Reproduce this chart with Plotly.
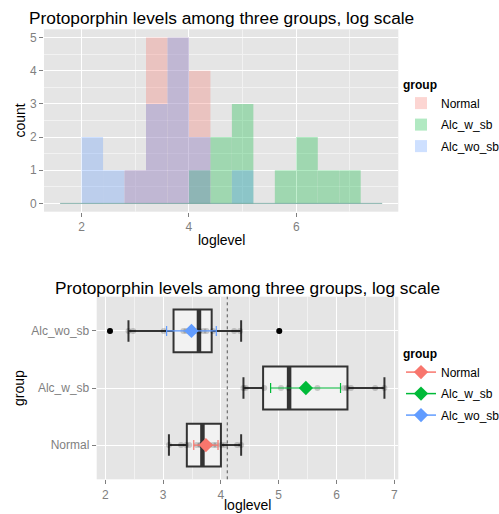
import plotly.graph_objects as go

# ---------------- data ----------------
groups = ["Normal", "Alc_w_sb", "Alc_wo_sb"]
colors = {"Normal": "#F8766D", "Alc_w_sb": "#00BA38", "Alc_wo_sb": "#619CFF"}

# histogram (bin width 0.4)
bin_centers = [1.8, 2.2, 2.6, 3.0, 3.4, 3.8, 4.2, 4.6, 5.0, 5.4, 5.8, 6.2, 6.6, 7.0, 7.4]
bin_width = 0.4
count_normal = [0, 0, 0, 1, 5, 5, 4, 0, 0, 0, 0, 0, 0, 0, 0]
count_alc_w_sb = [0, 0, 0, 0, 0, 0, 1, 2, 3, 0, 1, 2, 1, 1, 0]
count_alc_wo_sb = [0, 2, 1, 1, 3, 5, 2, 0, 1, 0, 0, 0, 0, 0, 0]
hist_counts = {"Normal": count_normal, "Alc_w_sb": count_alc_w_sb, "Alc_wo_sb": count_alc_wo_sb}

# boxplot statistics
box_q1 = [3.41, 4.73, 3.18]
box_median = [3.68, 5.18, 3.62]
box_q3 = [4.00, 6.19, 3.84]
box_lower = [3.10, 4.39, 2.40]
box_upper = [4.35, 6.83, 4.35]
outliers_x = [2.08, 5.01]
outliers_group = ["Alc_wo_sb", "Alc_wo_sb"]

# jittered raw points
pts_normal = [3.10, 3.31, 3.40, 3.45, 3.58, 3.64, 3.66, 3.70, 3.80, 3.87, 3.92, 4.01, 4.07, 4.28, 4.35]
pts_alc_w_sb = [4.39, 4.43, 4.75, 5.04, 5.17, 5.67, 6.13, 6.18, 6.25, 6.67, 6.83]
pts_alc_wo_sb = [2.08, 2.40, 2.48, 3.01, 3.35, 3.40, 3.49, 3.55, 3.63, 3.70, 3.86, 4.23, 4.33, 5.01, 3.75]
points = {"Normal": pts_normal, "Alc_w_sb": pts_alc_w_sb, "Alc_wo_sb": pts_alc_wo_sb}

# group means with interval
mean_vals = [3.74, 5.47, 3.49]
ci_lo = [3.53, 4.86, 3.06]
ci_hi = [3.95, 6.07, 3.92]
overall_mean = 4.11

# ---------------- layout helpers ----------------
W, H = 499, 514
def px(x):
    return x / W
def py(y):
    return 1 - y / H

BG = "#E5E5E5"
GRID = "white"
MINOR = "#F2F2F2"
TICK = "#7F7F7F"
FONT = "Liberation Sans, Arial, sans-serif"

fig = go.Figure()

# ---------------- histogram ----------------
for g in groups:
    fig.add_trace(go.Bar(
        x=bin_centers, y=hist_counts[g], width=bin_width, name=g,
        marker=dict(color=colors[g], line=dict(width=0)), opacity=0.3,
        xaxis="x", yaxis="y", legend="legend", legendgroup="h_" + g, showlegend=True,
    ))
# zero baseline of empty bins
fig.add_trace(go.Scatter(
    x=[bin_centers[0] - bin_width / 2, bin_centers[-1] + bin_width / 2], y=[0, 0],
    mode="lines", line=dict(color="rgba(90,150,140,0.7)", width=1),
    xaxis="x", yaxis="y", showlegend=False, hoverinfo="skip"))

# ---------------- boxplot ----------------
ypos = {g: i + 1 for i, g in enumerate(groups)}
box_w = 0.75
fig.add_trace(go.Box(
    y=[ypos[g] for g in groups], q1=box_q1, median=box_median, q3=box_q3,
    lowerfence=box_lower, upperfence=box_upper, orientation="h",
    width=box_w, fillcolor="#F2F2F2", line=dict(color="#333333", width=2),
    boxpoints=False, xaxis="x2", yaxis="y2", showlegend=False, hoverinfo="skip"))
# thick median
for i, g in enumerate(groups):
    fig.add_trace(go.Scatter(
        x=[box_median[i], box_median[i]], y=[ypos[g] - box_w / 2, ypos[g] + box_w / 2],
        mode="lines", line=dict(color="#333333", width=4.5),
        xaxis="x2", yaxis="y2", showlegend=False, hoverinfo="skip"))
# outliers
fig.add_trace(go.Scatter(
    x=outliers_x, y=[ypos[g] for g in outliers_group], mode="markers",
    marker=dict(color="black", size=6), xaxis="x2", yaxis="y2",
    showlegend=False, hoverinfo="skip"))
# jittered points
for g in groups:
    fig.add_trace(go.Scatter(
        x=points[g], y=[ypos[g]] * len(points[g]), mode="markers",
        marker=dict(color="rgba(0,0,0,0.18)", size=6), xaxis="x2", yaxis="y2",
        showlegend=False, hoverinfo="skip"))
# dashed overall mean
fig.add_shape(type="line", x0=overall_mean, x1=overall_mean, xref="x2",
              y0=0, y1=1, yref="y2 domain",
              line=dict(color="#555555", width=1, dash="3px,3px"), layer="above")
# means + interval
for i, g in enumerate(groups):
    fig.add_trace(go.Scatter(
        x=[mean_vals[i]], y=[ypos[g]], mode="lines+markers", name=g,
        marker=dict(color=colors[g], size=11, symbol="diamond"),
        line=dict(color=colors[g], width=1.5),
        error_x=dict(type="data", symmetric=False,
                     array=[ci_hi[i] - mean_vals[i]], arrayminus=[mean_vals[i] - ci_lo[i]],
                     color=colors[g], thickness=1.2, width=5),
        xaxis="x2", yaxis="y2", legend="legend2", legendgroup="b_" + g, showlegend=True))

axis_common = dict(showline=False, zeroline=False, ticks="outside", ticklen=4,
                   tickcolor=TICK, tickwidth=1, gridcolor=GRID, gridwidth=1.2,
                   automargin=False,
                   tickfont=dict(family=FONT, size=12, color=TICK))

fig.update_layout(
    width=W, height=H, margin=dict(l=0, r=0, t=0, b=0, pad=0, autoexpand=False),
    paper_bgcolor="white", plot_bgcolor=BG, barmode="overlay",
    font=dict(family=FONT, size=12, color="black"),
    xaxis=dict(domain=[px(44), px(398.3)], range=[1.3, 7.9], anchor="y",
               tickvals=[2, 4, 6], minor=dict(tickvals=[3, 5, 7], showgrid=True, gridcolor=MINOR, ticks=""),
               **axis_common),
    yaxis=dict(domain=[py(211.7), py(29.3)], range=[-0.25, 5.25], anchor="x",
               tickvals=[0, 1, 2, 3, 4, 5],
               minor=dict(tickvals=[0.5, 1.5, 2.5, 3.5, 4.5], showgrid=True, gridcolor=MINOR, ticks=""),
               **axis_common),
    xaxis2=dict(domain=[px(96.7), px(398.3)], range=[1.85, 7.07], anchor="y2",
                tickvals=[2, 3, 4, 5, 6, 7],
                minor=dict(tickvals=[2.5, 3.5, 4.5, 5.5, 6.5], showgrid=True, gridcolor=MINOR, ticks=""),
                **axis_common),
    yaxis2=dict(domain=[py(479.3), py(296.7)], range=[0.4, 3.6], anchor="x2",
                tickvals=[ypos[g] for g in groups], ticktext=groups,
                **axis_common),
    legend=dict(x=px(401), y=py(73), xanchor="left", yanchor="top",
                title=dict(text="<b>group</b>", font=dict(size=12)),
                font=dict(size=12), bgcolor="rgba(0,0,0,0)", tracegroupgap=2.5),
    legend2=dict(x=px(401), y=py(342), xanchor="left", yanchor="top",
                 title=dict(text="<b>group</b>", font=dict(size=12)),
                 font=dict(size=12), bgcolor="rgba(0,0,0,0)", tracegroupgap=2.5),
    showlegend=True,
)

title = "Protoporphin levels among three groups, log scale"
ann = [
    dict(text=title, x=px(221), y=py(18), font=dict(size=17.3)),
    dict(text=title, x=px(247.5), y=py(288), font=dict(size=17.3)),
    dict(text="count", x=px(19), y=py(120.5), textangle=-90, font=dict(size=14)),
    dict(text="loglevel", x=px(221), y=py(240), font=dict(size=14)),
    dict(text="group", x=px(19), y=py(388), textangle=-90, font=dict(size=14)),
    dict(text="loglevel", x=px(247.5), y=py(505), font=dict(size=14)),
]
for a in ann:
    fig.add_annotation(xref="paper", yref="paper", showarrow=False,
                       xanchor="center", yanchor="middle", **a)

fig.write_html(
    "out.html",
    config={"displayModeBar": False},
    post_script="document.body.style.margin='0';document.body.style.padding='0';"
                "document.documentElement.style.overflow='hidden';",
)
